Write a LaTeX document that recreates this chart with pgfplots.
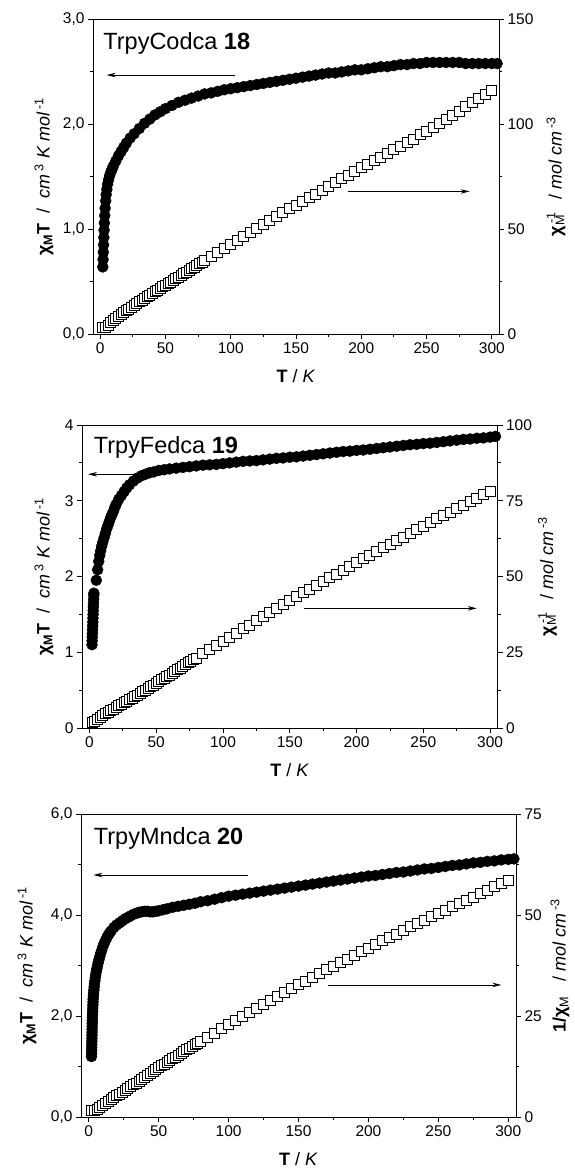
\documentclass[border=0pt]{standalone}
\usepackage{fontspec}
\setmainfont{Liberation Sans}
\usepackage{pgfplots}
\usepackage{pgfplotstable}
\pgfplotsset{compat=1.18}
\usetikzlibrary{arrows.meta}

% chi_M T (cm3 K/mol) and 1/chi_M (mol/cm3) against T (K)
\pgfplotstableread{
T chiT
2.0 0.64
2.2 0.71
2.4 0.78
2.6 0.85
2.8 0.92
3.0 0.99
3.2 1.06
3.5 1.13
3.8 1.20
4.2 1.27
4.6 1.33
5.1 1.38
5.7 1.43
6.4 1.47
7.2 1.51
8 1.54
9 1.57
10 1.60
12 1.65
14 1.70
16 1.74
18 1.78
20 1.82
23 1.87
26 1.91
30 1.96
34 2.01
38 2.05
42 2.09
46 2.12
50 2.15
55 2.18
60 2.21
65 2.23
70 2.25
75 2.27
80 2.29
85 2.30
90 2.315
95 2.33
100 2.34
105 2.35
110 2.36
115 2.37
120 2.38
125 2.39
130 2.40
135 2.41
140 2.42
145 2.43
150 2.44
155 2.45
160 2.46
165 2.47
170 2.48
175 2.49
180 2.49
185 2.50
190 2.51
195 2.52
200 2.52
205 2.53
210 2.54
215 2.55
220 2.55
225 2.56
230 2.57
235 2.57
240 2.58
245 2.58
250 2.59
255 2.59
260 2.59
265 2.59
270 2.59
275 2.59
280 2.58
285 2.58
290 2.58
295 2.58
300 2.58
304 2.58
}\coT
\pgfplotstableread{
T inv
2 3.1
4 3.3
6 4.2
8 5.3
10 6.3
12 7.3
14 8.2
16 9.2
18 10.1
20 11.0
22 11.9
24 12.8
26 13.6
28 14.4
30 15.3
32 16.1
34 16.9
36 17.7
38 18.5
40 19.3
42 20.1
44 20.9
46 21.7
48 22.5
50 23.3
52 24.1
54 24.8
56 25.6
58 26.4
60 27.1
62 27.9
64 28.8
66 29.5
68 30.3
70 31.1
72 31.9
74 32.7
76 33.5
78 34.2
80 34.9
85 37.0
90 38.9
95 40.8
100 42.7
105 44.7
110 46.6
115 48.5
120 50.4
125 52.3
130 54.2
135 56.0
140 57.9
145 59.7
150 61.5
155 63.3
160 65.0
165 66.8
170 68.5
175 70.3
180 72.3
185 74.0
190 75.7
195 77.4
200 79.4
205 81.0
210 82.7
215 84.3
220 86.3
225 87.9
230 89.5
235 91.4
240 93.0
245 95.0
250 96.5
255 98.5
260 100.4
265 102.3
270 104.2
275 106.2
280 108.5
285 110.5
290 112.4
295 114.3
300 116.3
}\coInv

\pgfplotstableread{
T chiT
2.0 1.10
2.1 1.15
2.2 1.20
2.3 1.25
2.4 1.30
2.5 1.35
2.6 1.40
2.7 1.45
2.8 1.50
2.9 1.55
3.0 1.60
3.1 1.65
3.2 1.70
3.3 1.75
3.4 1.78
5.2 1.95
6.2 2.09
7.0 2.20
7.8 2.28
8.5 2.34
9.2 2.40
10 2.45
11 2.51
12 2.57
13 2.63
14 2.68
15 2.73
16 2.78
17 2.82
18 2.86
19 2.91
20 2.95
22 3.02
24 3.07
26 3.12
28 3.17
30 3.21
33 3.26
36 3.30
39 3.33
42 3.35
45 3.37
48 3.38
52 3.40
56 3.41
60 3.42
65 3.43
70 3.44
75 3.45
80 3.46
85 3.47
90 3.475
95 3.48
100 3.49
105 3.50
110 3.51
115 3.52
120 3.525
125 3.53
130 3.54
135 3.55
140 3.56
145 3.565
150 3.575
155 3.58
160 3.59
165 3.60
170 3.61
175 3.62
180 3.63
185 3.64
190 3.65
195 3.655
200 3.665
205 3.67
210 3.68
215 3.69
220 3.70
225 3.71
230 3.72
235 3.73
240 3.74
245 3.745
250 3.755
255 3.76
260 3.77
265 3.78
270 3.79
275 3.80
280 3.81
285 3.815
290 3.825
295 3.83
300 3.84
304 3.85
}\feT
\pgfplotstableread{
T inv
2 1.8
4 2.2
6 2.9
8 3.5
10 4.1
12 4.65
14 5.2
16 5.7
18 6.25
20 6.8
22 7.3
24 7.8
26 8.3
28 8.8
30 9.35
32 9.86
34 10.4
36 10.9
38 11.45
40 12.0
42 12.5
44 13.1
46 13.6
48 14.2
50 14.75
52 15.3
54 15.9
56 16.4
58 17.0
60 17.5
62 18.1
64 18.7
66 19.2
68 19.8
70 20.3
72 20.9
74 21.5
76 22.0
78 22.6
80 23.1
85 24.5
90 25.9
95 27.3
100 28.65
105 30.0
110 31.3
115 32.7
120 34.0
125 35.4
130 36.7
135 38.0
140 39.3
145 40.7
150 41.95
155 43.3
160 44.6
165 45.8
170 47.1
175 48.3
180 49.6
185 50.8
190 52.1
195 53.4
200 54.6
205 55.9
210 57.1
215 58.3
220 59.5
225 60.6
230 61.8
235 63.0
240 64.2
245 65.4
250 66.6
255 67.8
260 69.0
265 70.1
270 71.2
275 72.4
280 73.5
285 74.7
290 75.8
295 77.0
300 78.1
}\feInv

\pgfplotstableread{
T chiT
2.0 1.20
2.05 1.26
2.1 1.32
2.15 1.38
2.2 1.44
2.25 1.50
2.3 1.56
2.35 1.62
2.4 1.68
2.45 1.74
2.5 1.80
2.55 1.86
2.6 1.92
2.65 1.98
2.7 2.04
2.8 2.10
2.9 2.16
3.0 2.22
3.1 2.28
3.2 2.34
3.35 2.40
3.5 2.46
3.7 2.52
3.9 2.58
4.1 2.64
4.4 2.70
4.7 2.76
5.0 2.82
5.4 2.88
5.8 2.94
6.3 3.00
6.8 3.06
7.3 3.12
7.9 3.18
8.5 3.24
9.2 3.30
10 3.37
11 3.44
12 3.50
13 3.56
14 3.61
15 3.65
16 3.69
18 3.76
20 3.81
22 3.85
24 3.89
26 3.93
28 3.96
30 3.99
32 4.02
34 4.04
36 4.06
38 4.07
40 4.08
42 4.08
44 4.07
46 4.07
48 4.08
50 4.09
53 4.11
56 4.13
60 4.16
64 4.18
68 4.20
72 4.22
76 4.24
80 4.27
85 4.29
90 4.32
95 4.35
100 4.38
105 4.40
110 4.42
115 4.44
120 4.46
125 4.48
130 4.50
135 4.52
140 4.54
145 4.56
150 4.58
155 4.60
160 4.62
165 4.64
170 4.66
175 4.68
180 4.70
185 4.72
190 4.74
195 4.76
200 4.78
205 4.79
210 4.81
215 4.83
220 4.85
225 4.86
230 4.88
235 4.90
240 4.92
245 4.93
250 4.95
255 4.97
260 4.99
265 5.00
270 5.02
275 5.04
280 5.05
285 5.07
290 5.08
295 5.10
300 5.11
304 5.12
}\mnT
\pgfplotstableread{
T inv
2 1.67
4 1.63
6 1.96
8 2.44
10 2.92
12 3.39
14 3.86
16 4.32
18 4.79
20 5.25
22 5.71
24 6.17
26 6.62
28 7.07
30 7.52
32 7.96
34 8.42
36 8.87
38 9.34
40 9.80
42 10.29
44 10.81
46 11.30
48 11.76
50 12.22
52 12.67
54 13.12
56 13.56
58 13.99
60 14.42
62 14.87
64 15.31
66 15.75
68 16.19
70 16.63
72 17.06
74 17.49
76 17.92
78 18.33
80 18.74
85 19.81
90 20.83
95 21.84
100 22.83
105 23.86
110 24.89
115 25.90
120 26.91
125 27.90
130 28.89
135 29.87
140 30.84
145 31.80
150 32.75
155 33.70
160 34.63
165 35.56
170 36.48
175 37.39
180 38.30
185 39.19
190 40.08
195 40.97
200 41.84
205 42.80
210 43.66
215 44.51
220 45.36
225 46.30
230 47.13
235 47.96
240 48.78
245 49.70
250 50.51
255 51.31
260 52.10
265 53.00
270 53.78
275 54.56
280 55.45
285 56.21
290 57.09
295 57.84
300 58.71
}\mnInv

\pgfplotsset{
  magbase/.style={
    scale only axis,
    xmin=-5.5, xmax=305.5,
    axis line style={line width=1pt},
    tick style={line width=0.9pt, black},
    tick align=outside,
    major tick length=5pt,
    minor tick length=3pt,
    /pgf/number format/assume math mode=true,
    tick label style={font=\fontsize{15.5}{18}\selectfont},
    label style={font=\fontsize{18}{21}\selectfont},
  },
  leftax/.style={
    magbase,
    xtick={0,50,...,300},
    minor x tick num=1,
    minor y tick num=1,
    xtick pos=bottom,
    ytick pos=left,
    xlabel={\textbf{T} / \textit{K}},
    xlabel style={at={(axis description cs:0.5,0)}, anchor=center, yshift=-42pt},
  },
  rightax/.style={
    magbase,
    axis x line=none,
    axis y line*=right,
    ytick pos=right,
    minor y tick num=1,
  },
  chimark/.style={only marks, mark=*, mark size=5.5pt, black},
  invmark/.style={only marks, mark=square*, mark size=5pt,
    mark options={draw=black, fill=white, line width=0.9pt}},
}
\tikzset{
  arr/.style={line width=0.8pt, -{Stealth[length=9pt,width=4.5pt]}},
  ttl/.style={anchor=west, inner sep=0pt, font=\fontsize{23.5}{28}\selectfont},
}

\newcommand{\chiTlabel}{\textbf{χ\textsubscript{M}T}\ \ /\ \ \textit{cm}\,\textsuperscript{3}\ \textit{K mol}\,\textsuperscript{-1}}
\newcommand{\invlabel}{\textbf{χ}\makebox[0pt][l]{\textsuperscript{\,-1}}\textsubscript{M}\ \ \ /\ \textit{mol cm}\,\textsuperscript{-3}}

\begin{document}
\begin{tikzpicture}

% ---------- panel 1: TrpyCodca 18
\begin{axis}[leftax,
    at={(93pt,-334pt)}, anchor=south west,
    width=406pt, height=314.5pt,
    ymin=0, ymax=3, ytick={0,1,2,3},
    yticklabel style={/pgf/number format/.cd, fixed, fixed zerofill, precision=1, use comma},
    ylabel={\chiTlabel},
    ylabel style={at={(axis description cs:-0.1207,0.5)}, anchor=center},
]
\addplot[chimark] table[x=T, y=chiT] {\coT};
\node[ttl] at (axis cs:2.3,2.77) {TrpyCodca \textbf{18}};
\draw[arr] (axis cs:103,2.47) -- (axis cs:5,2.47);
\draw[arr] (axis cs:190,1.36) -- (axis cs:283,1.36);
\end{axis}
\begin{axis}[rightax,
    at={(93pt,-334pt)}, anchor=south west,
    width=406pt, height=314.5pt,
    ymin=0, ymax=150, ytick={0,50,100,150},
    ylabel={\invlabel},
    ylabel style={at={(axis description cs:1.1404,0.5)}, anchor=center},
]
\addplot[invmark] table[x=T, y=inv] {\coInv};
\end{axis}

% ---------- panel 2: TrpyFedca 19
\begin{axis}[leftax,
    at={(82pt,-728pt)}, anchor=south west,
    width=415.5pt, height=303pt,
    ymin=0, ymax=4, ytick={0,1,2,3,4},
    ylabel={\chiTlabel},
    ylabel style={at={(axis description cs:-0.0915,0.5)}, anchor=center},
]
\addplot[chimark] table[x=T, y=chiT] {\feT};
\node[ttl] at (axis cs:3.2,3.71) {TrpyFedca \textbf{19}};
\draw[arr] (axis cs:33.5,3.35) -- (axis cs:-1,3.35);
\draw[arr] (axis cs:161,1.58) -- (axis cs:290,1.58);
\end{axis}
\begin{axis}[rightax,
    at={(82pt,-728pt)}, anchor=south west,
    width=415.5pt, height=303pt,
    ymin=0, ymax=100, ytick={0,25,50,75,100},
    ylabel={\invlabel},
    ylabel style={at={(axis description cs:1.1203,0.5)}, anchor=center},
]
\addplot[invmark] table[x=T, y=inv] {\feInv};
\end{axis}

% ---------- panel 3: TrpyMndca 20
\begin{axis}[leftax,
    at={(81pt,-1117pt)}, anchor=south west,
    width=435pt, height=302.5pt,
    ymin=0, ymax=6, ytick={0,2,4,6},
    yticklabel style={/pgf/number format/.cd, fixed, fixed zerofill, precision=1, use comma},
    ylabel={\chiTlabel},
    ylabel style={at={(axis description cs:-0.1241,0.5)}, anchor=center},
]
\addplot[chimark] table[x=T, y=chiT] {\mnT};
\node[ttl] at (axis cs:3.6,5.53) {TrpyMndca \textbf{20}};
\draw[arr] (axis cs:113.7,4.8) -- (axis cs:3.4,4.8);
\draw[arr] (axis cs:171,2.62) -- (axis cs:295,2.62);
\end{axis}
\begin{axis}[rightax,
    at={(81pt,-1117pt)}, anchor=south west,
    width=435pt, height=302.5pt,
    ymin=0, ymax=75, ytick={0,25,50,75},
    ylabel={\textbf{1/χ}\textsubscript{M}\ \ \ /\ \textit{mol cm}\,\textsuperscript{-3}},
    ylabel style={at={(axis description cs:1.101,0.5)}, anchor=center},
]
\addplot[invmark] table[x=T, y=inv] {\mnInv};
\end{axis}

\pgfresetboundingbox
\path[use as bounding box] (0pt,0pt) rectangle (574pt,-1171pt);
\end{tikzpicture}
\end{document}
